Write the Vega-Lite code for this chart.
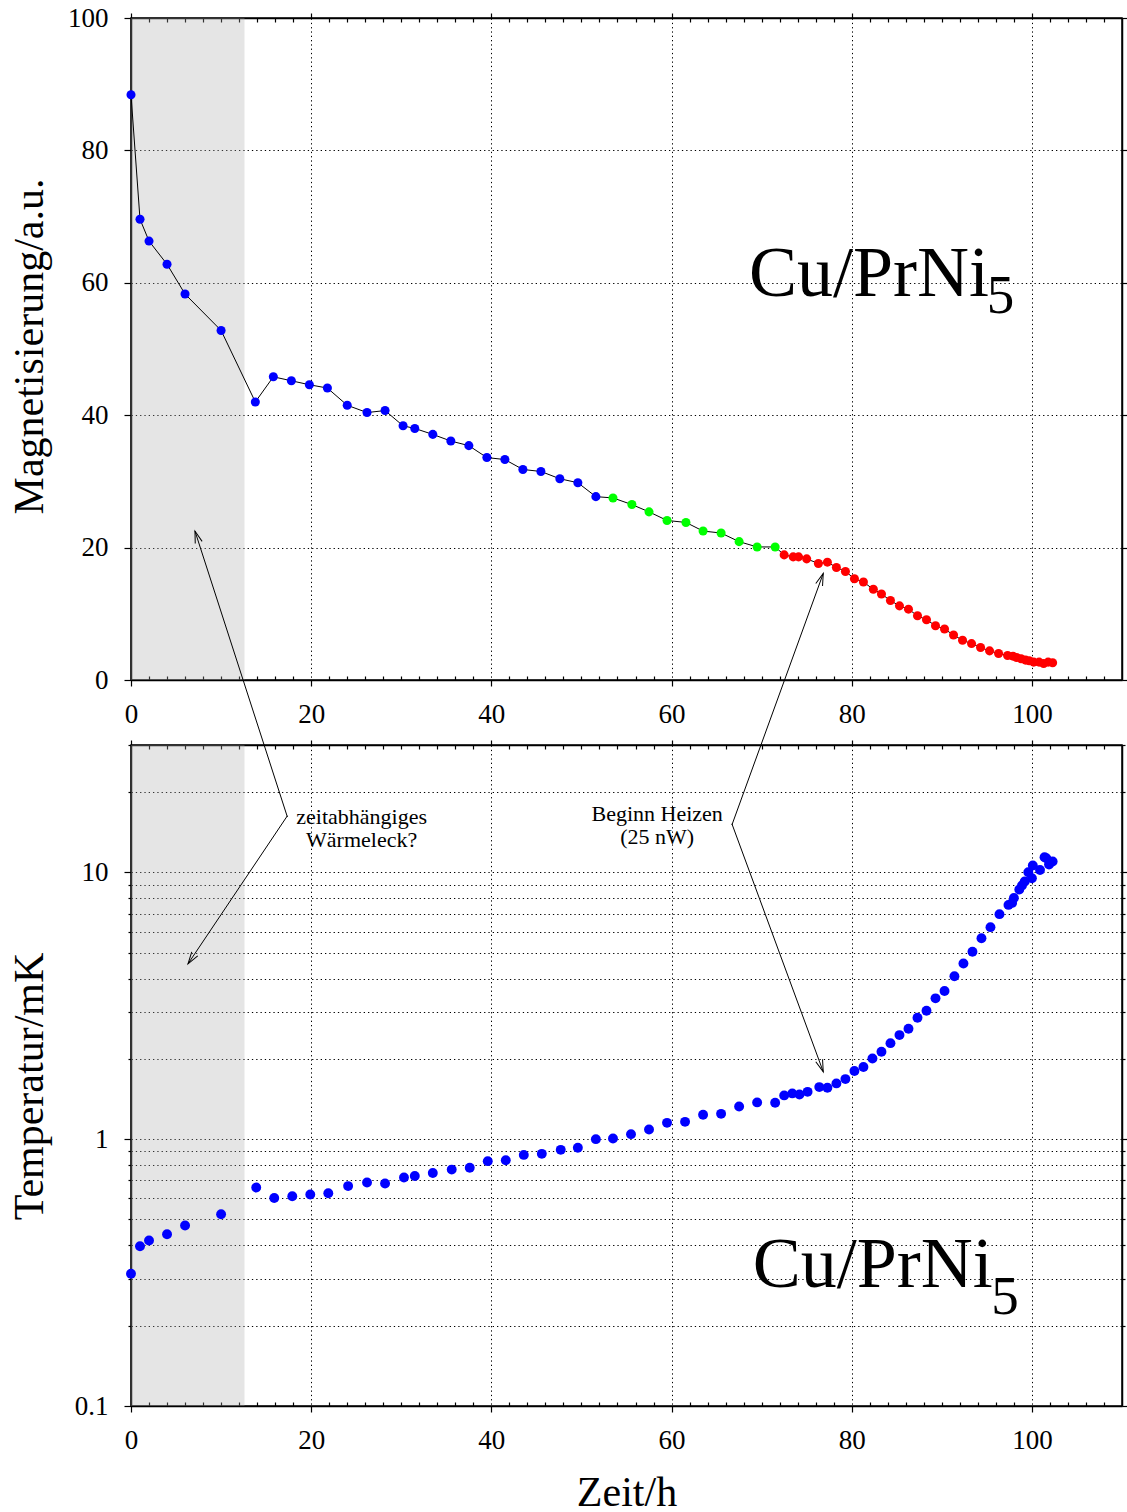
{
  "$schema": "https://vega.github.io/schema/vega-lite/v6.json",
  "padding": {"left": 7, "top": 3, "right": 0, "bottom": 0},
  "background": "white",
  "config": {
    "font": "Liberation Serif",
    "view": {"stroke": "black", "strokeWidth": 1.5},
    "axis": {
      "domainColor": "black", "domainWidth": 1.5,
      "tickColor": "black", "tickWidth": 1.2,
      "labelColor": "black", "labelFont": "Liberation Serif", "labelFontSize": 27,
      "labelOverlap": false, "labelFlush": false,
      "titleFont": "Liberation Serif", "titleFontSize": 42, "titleFontWeight": "normal", "titleColor": "black",
      "gridColor": "black", "gridDash": [1.3, 3], "gridWidth": 1
    }
  },
  "datasets": {
    "magnetisierung": [
      {"zeit": 0, "mag": 88.4, "phase": "1"},
      {"zeit": 1.0, "mag": 69.6, "phase": "1"},
      {"zeit": 2.0, "mag": 66.3, "phase": "1"},
      {"zeit": 4.0, "mag": 62.8, "phase": "1"},
      {"zeit": 6.0, "mag": 58.3, "phase": "1"},
      {"zeit": 10.0, "mag": 52.8, "phase": "1"},
      {"zeit": 13.8, "mag": 42.0, "phase": "1"},
      {"zeit": 15.8, "mag": 45.8, "phase": "1"},
      {"zeit": 17.8, "mag": 45.2, "phase": "1"},
      {"zeit": 19.8, "mag": 44.6, "phase": "1"},
      {"zeit": 21.8, "mag": 44.1, "phase": "1"},
      {"zeit": 24.0, "mag": 41.5, "phase": "1"},
      {"zeit": 26.2, "mag": 40.4, "phase": "1"},
      {"zeit": 28.2, "mag": 40.7, "phase": "1"},
      {"zeit": 30.2, "mag": 38.4, "phase": "1"},
      {"zeit": 31.5, "mag": 38.0, "phase": "1"},
      {"zeit": 33.5, "mag": 37.1, "phase": "1"},
      {"zeit": 35.5, "mag": 36.1, "phase": "1"},
      {"zeit": 37.5, "mag": 35.4, "phase": "1"},
      {"zeit": 39.5, "mag": 33.6, "phase": "1"},
      {"zeit": 41.5, "mag": 33.3, "phase": "1"},
      {"zeit": 43.5, "mag": 31.8, "phase": "1"},
      {"zeit": 45.5, "mag": 31.5, "phase": "1"},
      {"zeit": 47.6, "mag": 30.4, "phase": "1"},
      {"zeit": 49.6, "mag": 29.8, "phase": "1"},
      {"zeit": 51.6, "mag": 27.7, "phase": "1"},
      {"zeit": 53.5, "mag": 27.5, "phase": "2"},
      {"zeit": 55.6, "mag": 26.5, "phase": "2"},
      {"zeit": 57.5, "mag": 25.4, "phase": "2"},
      {"zeit": 59.5, "mag": 24.1, "phase": "2"},
      {"zeit": 61.6, "mag": 23.8, "phase": "2"},
      {"zeit": 63.5, "mag": 22.5, "phase": "2"},
      {"zeit": 65.5, "mag": 22.2, "phase": "2"},
      {"zeit": 67.5, "mag": 20.9, "phase": "2"},
      {"zeit": 69.5, "mag": 20.1, "phase": "2"},
      {"zeit": 71.5, "mag": 20.1, "phase": "2"},
      {"zeit": 72.5, "mag": 18.9, "phase": "3"},
      {"zeit": 73.5, "mag": 18.6, "phase": "3"},
      {"zeit": 74.1, "mag": 18.6, "phase": "3"},
      {"zeit": 75.0, "mag": 18.3, "phase": "3"},
      {"zeit": 76.3, "mag": 17.6, "phase": "3"},
      {"zeit": 77.3, "mag": 17.8, "phase": "3"},
      {"zeit": 78.3, "mag": 17.0, "phase": "3"},
      {"zeit": 79.3, "mag": 16.4, "phase": "3"},
      {"zeit": 80.3, "mag": 15.3, "phase": "3"},
      {"zeit": 81.3, "mag": 14.8, "phase": "3"},
      {"zeit": 82.4, "mag": 13.7, "phase": "3"},
      {"zeit": 83.3, "mag": 13.0, "phase": "3"},
      {"zeit": 84.3, "mag": 12.0, "phase": "3"},
      {"zeit": 85.3, "mag": 11.2, "phase": "3"},
      {"zeit": 86.3, "mag": 10.7, "phase": "3"},
      {"zeit": 87.3, "mag": 9.7, "phase": "3"},
      {"zeit": 88.3, "mag": 9.1, "phase": "3"},
      {"zeit": 89.3, "mag": 8.2, "phase": "3"},
      {"zeit": 90.3, "mag": 7.7, "phase": "3"},
      {"zeit": 91.3, "mag": 6.8, "phase": "3"},
      {"zeit": 92.3, "mag": 6.0, "phase": "3"},
      {"zeit": 93.3, "mag": 5.5, "phase": "3"},
      {"zeit": 94.3, "mag": 4.9, "phase": "3"},
      {"zeit": 95.3, "mag": 4.4, "phase": "3"},
      {"zeit": 96.3, "mag": 4.0, "phase": "3"},
      {"zeit": 97.3, "mag": 3.7, "phase": "3"},
      {"zeit": 97.9, "mag": 3.6, "phase": "3"},
      {"zeit": 98.3, "mag": 3.4, "phase": "3"},
      {"zeit": 98.8, "mag": 3.2, "phase": "3"},
      {"zeit": 99.3, "mag": 3.0, "phase": "3"},
      {"zeit": 99.7, "mag": 2.9, "phase": "3"},
      {"zeit": 100.2, "mag": 2.7, "phase": "3"},
      {"zeit": 100.8, "mag": 2.7, "phase": "3"},
      {"zeit": 101.3, "mag": 2.5, "phase": "3"},
      {"zeit": 101.8, "mag": 2.7, "phase": "3"},
      {"zeit": 102.3, "mag": 2.6, "phase": "3"}
    ],
    "temperatur": [
      {"zeit": 0, "temp": 0.313}, {"zeit": 1.0, "temp": 0.397}, {"zeit": 2.0, "temp": 0.417},
      {"zeit": 4.0, "temp": 0.440}, {"zeit": 6.0, "temp": 0.475}, {"zeit": 10.0, "temp": 0.523},
      {"zeit": 13.9, "temp": 0.659}, {"zeit": 15.9, "temp": 0.602}, {"zeit": 17.9, "temp": 0.611},
      {"zeit": 19.9, "temp": 0.620}, {"zeit": 21.9, "temp": 0.627}, {"zeit": 24.1, "temp": 0.667},
      {"zeit": 26.2, "temp": 0.688}, {"zeit": 28.2, "temp": 0.682}, {"zeit": 30.3, "temp": 0.718},
      {"zeit": 31.5, "temp": 0.728}, {"zeit": 33.5, "temp": 0.747}, {"zeit": 35.6, "temp": 0.769},
      {"zeit": 37.6, "temp": 0.781}, {"zeit": 39.6, "temp": 0.827}, {"zeit": 41.6, "temp": 0.834},
      {"zeit": 43.6, "temp": 0.873}, {"zeit": 45.6, "temp": 0.881}, {"zeit": 47.7, "temp": 0.912},
      {"zeit": 49.6, "temp": 0.928}, {"zeit": 51.6, "temp": 1.0}, {"zeit": 53.5, "temp": 1.006},
      {"zeit": 55.5, "temp": 1.044}, {"zeit": 57.5, "temp": 1.087}, {"zeit": 59.5, "temp": 1.151},
      {"zeit": 61.5, "temp": 1.161}, {"zeit": 63.5, "temp": 1.234}, {"zeit": 65.5, "temp": 1.244},
      {"zeit": 67.5, "temp": 1.326}, {"zeit": 69.5, "temp": 1.373}, {"zeit": 71.5, "temp": 1.369},
      {"zeit": 72.5, "temp": 1.459}, {"zeit": 73.4, "temp": 1.484}, {"zeit": 74.2, "temp": 1.471},
      {"zeit": 75.1, "temp": 1.504}, {"zeit": 76.4, "temp": 1.567}, {"zeit": 77.3, "temp": 1.558},
      {"zeit": 78.3, "temp": 1.618}, {"zeit": 79.3, "temp": 1.679}, {"zeit": 80.3, "temp": 1.800},
      {"zeit": 81.3, "temp": 1.863}, {"zeit": 82.3, "temp": 2.006}, {"zeit": 83.3, "temp": 2.125},
      {"zeit": 84.3, "temp": 2.290}, {"zeit": 85.3, "temp": 2.455}, {"zeit": 86.3, "temp": 2.594},
      {"zeit": 87.3, "temp": 2.852}, {"zeit": 88.3, "temp": 3.03}, {"zeit": 89.3, "temp": 3.37},
      {"zeit": 90.3, "temp": 3.59}, {"zeit": 91.4, "temp": 4.08}, {"zeit": 92.4, "temp": 4.55},
      {"zeit": 93.4, "temp": 5.04}, {"zeit": 94.4, "temp": 5.66}, {"zeit": 95.4, "temp": 6.23},
      {"zeit": 96.4, "temp": 6.97}, {"zeit": 97.4, "temp": 7.55}, {"zeit": 97.8, "temp": 7.68},
      {"zeit": 98.0, "temp": 8.02}, {"zeit": 98.6, "temp": 8.62}, {"zeit": 98.9, "temp": 8.92},
      {"zeit": 99.2, "temp": 9.24}, {"zeit": 99.6, "temp": 10.0}, {"zeit": 100.0, "temp": 9.50},
      {"zeit": 100.1, "temp": 10.6}, {"zeit": 100.9, "temp": 10.2}, {"zeit": 101.4, "temp": 11.4},
      {"zeit": 101.6, "temp": 11.3}, {"zeit": 101.9, "temp": 10.7}, {"zeit": 102.3, "temp": 10.98}
    ]
  },
  "spacing": 65,
  "bounds": "flush",
  "vconcat": [
    {
      "width": 991,
      "height": 662,
      "data": {"name": "magnetisierung"},
      "resolve": {"axis": {"x": "independent", "y": "independent"}},
      "layer": [
        {
          "data": {"values": [{}]},
          "mark": {"type": "rect", "fill": "#a8a8a8", "opacity": 0.3},
          "encoding": {
            "x": {"datum": 0, "type": "quantitative", "scale": {"domain": [0, 110], "nice": false, "zero": false}, "axis": null},
            "x2": {"datum": 12.6}
          }
        },
        {
          "mark": {"type": "line", "color": "black", "strokeWidth": 1},
          "encoding": {
            "x": {
              "field": "zeit", "type": "quantitative",
              "scale": {"domain": [0, 110], "nice": false, "zero": false},
              "axis": {
                "orient": "bottom", "title": null,
                "values": [0,2,4,6,8,10,12,14,16,18,20,22,24,26,28,30,32,34,36,38,40,42,44,46,48,50,52,54,56,58,60,62,64,66,68,70,72,74,76,78,80,82,84,86,88,90,92,94,96,98,100,102,104,106,108],
                "format": "d",
                "labelExpr": "datum.value % 20 === 0 ? datum.label : ''",
                "tickSize": {"condition": {"test": "datum.value % 20 === 0", "value": 6}, "value": -4},
                "labelPadding": 36, "labelBaseline": "alphabetic",
                "grid": true,
                "gridOpacity": {"condition": {"test": "datum.value % 20 === 0", "value": 1}, "value": 0}
              }
            },
            "y": {
              "field": "mag", "type": "quantitative",
              "scale": {"domain": [0, 100], "nice": false},
              "axis": {
                "orient": "left", "title": "Magnetisierung/a.u.",
                "values": [0, 20, 40, 60, 80, 100],
                "tickSize": 7, "labelPadding": 16, "grid": true,
                "titleX": -80, "titleY": 328, "titleBaseline": "bottom", "titleAlign": "center"
              }
            }
          }
        },
        {
          "mark": {"type": "point", "filled": true, "opacity": 1, "size": 82},
          "encoding": {
            "x": {
              "field": "zeit", "type": "quantitative",
              "scale": {"domain": [0, 110], "nice": false, "zero": false},
              "axis": {
                "orient": "top", "title": null, "labels": false, "grid": false,
                "values": [0,2,4,6,8,10,12,14,16,18,20,22,24,26,28,30,32,34,36,38,40,42,44,46,48,50,52,54,56,58,60,62,64,66,68,70,72,74,76,78,80,82,84,86,88,90,92,94,96,98,100,102,104,106,108],
                "tickSize": {"condition": {"test": "datum.value % 20 === 0", "value": 5}, "value": -4}
              }
            },
            "y": {
              "field": "mag", "type": "quantitative",
              "scale": {"domain": [0, 100], "nice": false},
              "axis": {"orient": "right", "title": null, "labels": false, "grid": false, "values": [0, 20, 40, 60, 80, 100], "tickSize": 5}
            },
            "color": {
              "field": "phase", "type": "nominal",
              "scale": {"domain": ["1", "2", "3"], "range": ["#0000ff", "#00ff00", "#ff0000"]},
              "legend": null
            }
          }
        },
        {
          "data": {"values": [{}]},
          "mark": {"type": "text", "text": "Cu/PrNi", "fontSize": 72, "align": "left", "baseline": "alphabetic", "color": "black"},
          "encoding": {
            "x": {"datum": 68.6, "type": "quantitative", "scale": {"domain": [0, 110], "nice": false, "zero": false}, "axis": null},
            "y": {"datum": 58.0, "type": "quantitative", "scale": {"domain": [0, 100], "nice": false}, "axis": null}
          }
        },
        {
          "data": {"values": [{}]},
          "mark": {"type": "text", "text": "5", "fontSize": 55, "align": "left", "baseline": "alphabetic", "color": "black"},
          "encoding": {
            "x": {"datum": 95.0, "type": "quantitative", "scale": {"domain": [0, 110], "nice": false, "zero": false}, "axis": null},
            "y": {"datum": 55.5, "type": "quantitative", "scale": {"domain": [0, 100], "nice": false}, "axis": null}
          }
        },
        {
          "data": {"values": [{}]},
          "mark": {"type": "rule", "color": "black", "strokeWidth": 1},
          "encoding": {
            "x": {"datum": 17.36, "type": "quantitative", "scale": {"domain": [0, 110], "nice": false, "zero": false}, "axis": null},
            "y": {"datum": -20.7, "type": "quantitative", "scale": {"domain": [0, 100], "nice": false}, "axis": null},
            "x2": {"datum": 7.10},
            "y2": {"datum": 22.5}
          }
        },
        {
          "data": {"values": [{}]},
          "mark": {"type": "rule", "color": "black", "strokeWidth": 1},
          "encoding": {
            "x": {"datum": 66.7, "type": "quantitative", "scale": {"domain": [0, 110], "nice": false, "zero": false}, "axis": null},
            "y": {"datum": -21.9, "type": "quantitative", "scale": {"domain": [0, 100], "nice": false}, "axis": null},
            "x2": {"datum": 76.84},
            "y2": {"datum": 16.1}
          }
        },
        {
          "data": {"values": [{}]},
          "mark": {"type": "point", "shape": "M-0.6,2L0,0L0.6,2", "size": 144, "filled": false, "color": "black", "strokeWidth": 1, "opacity": 1, "angle": 342},
          "encoding": {
            "x": {"datum": 7.10, "type": "quantitative", "scale": {"domain": [0, 110], "nice": false, "zero": false}, "axis": null},
            "y": {"datum": 22.5, "type": "quantitative", "scale": {"domain": [0, 100], "nice": false}, "axis": null}
          }
        },
        {
          "data": {"values": [{}]},
          "mark": {"type": "point", "shape": "M-0.6,2L0,0L0.6,2", "size": 144, "filled": false, "color": "black", "strokeWidth": 1, "opacity": 1, "angle": 20},
          "encoding": {
            "x": {"datum": 76.84, "type": "quantitative", "scale": {"domain": [0, 110], "nice": false, "zero": false}, "axis": null},
            "y": {"datum": 16.1, "type": "quantitative", "scale": {"domain": [0, 100], "nice": false}, "axis": null}
          }
        }
      ]
    },
    {
      "width": 991,
      "height": 661,
      "data": {"name": "temperatur"},
      "resolve": {"axis": {"x": "independent", "y": "independent"}},
      "layer": [
        {
          "data": {"values": [{}]},
          "mark": {"type": "rect", "fill": "#a8a8a8", "opacity": 0.3},
          "encoding": {
            "x": {"datum": 0, "type": "quantitative", "scale": {"domain": [0, 110], "nice": false, "zero": false}, "axis": null},
            "x2": {"datum": 12.6}
          }
        },
        {
          "mark": {"type": "point", "filled": true, "opacity": 1, "size": 98, "color": "#0000ff"},
          "encoding": {
            "x": {
              "field": "zeit", "type": "quantitative",
              "scale": {"domain": [0, 110], "nice": false, "zero": false},
              "axis": {
                "orient": "bottom", "title": "Zeit/h",
                "values": [0,2,4,6,8,10,12,14,16,18,20,22,24,26,28,30,32,34,36,38,40,42,44,46,48,50,52,54,56,58,60,62,64,66,68,70,72,74,76,78,80,82,84,86,88,90,92,94,96,98,100,102,104,106,108],
                "format": "d",
                "labelExpr": "datum.value % 20 === 0 ? datum.label : ''",
                "tickSize": {"condition": {"test": "datum.value % 20 === 0", "value": 6}, "value": -4},
                "labelPadding": 36, "labelBaseline": "alphabetic",
                "grid": true,
                "gridOpacity": {"condition": {"test": "datum.value % 20 === 0", "value": 1}, "value": 0},
                "titleY": 99, "titleBaseline": "alphabetic"
              }
            },
            "y": {
              "field": "temp", "type": "quantitative",
              "scale": {"type": "log", "domain": [0.1, 30], "nice": false},
              "axis": {
                "orient": "left", "title": "Temperatur/mK",
                "values": [0.1,0.2,0.3,0.4,0.5,0.6,0.7,0.8,0.9,1,2,3,4,5,6,7,8,9,10,20,30],
                "format": "~g",
                "labelExpr": "datum.value === 0.1 || datum.value === 1 || datum.value === 10 ? datum.label : ''",
                "tickSize": {"condition": {"test": "datum.value === 0.1 || datum.value === 1 || datum.value === 10", "value": 7}, "value": 3},
                "labelPadding": 16, "grid": true,
                "titleX": -80, "titleY": 341, "titleBaseline": "bottom", "titleAlign": "center"
              }
            }
          }
        },
        {
          "mark": {"type": "point", "filled": true, "opacity": 0, "size": 98},
          "encoding": {
            "x": {
              "field": "zeit", "type": "quantitative",
              "scale": {"domain": [0, 110], "nice": false, "zero": false},
              "axis": {
                "orient": "top", "title": null, "labels": false, "grid": false,
                "values": [0,2,4,6,8,10,12,14,16,18,20,22,24,26,28,30,32,34,36,38,40,42,44,46,48,50,52,54,56,58,60,62,64,66,68,70,72,74,76,78,80,82,84,86,88,90,92,94,96,98,100,102,104,106,108],
                "tickSize": {"condition": {"test": "datum.value % 20 === 0", "value": 5}, "value": -4}
              }
            },
            "y": {
              "field": "temp", "type": "quantitative",
              "scale": {"type": "log", "domain": [0.1, 30], "nice": false},
              "axis": {
                "orient": "right", "title": null, "labels": false, "grid": false,
                "values": [0.1,0.2,0.3,0.4,0.5,0.6,0.7,0.8,0.9,1,2,3,4,5,6,7,8,9,10,20,30],
                "tickSize": {"condition": {"test": "datum.value === 0.1 || datum.value === 1 || datum.value === 10", "value": 6}, "value": 3}
              }
            }
          }
        },
        {
          "data": {"values": [{}]},
          "mark": {"type": "text", "text": "Cu/PrNi", "fontSize": 72, "align": "left", "baseline": "alphabetic", "color": "black"},
          "encoding": {
            "x": {"datum": 69.0, "type": "quantitative", "scale": {"domain": [0, 110], "nice": false, "zero": false}, "axis": null},
            "y": {"datum": 0.2785, "type": "quantitative", "scale": {"type": "log", "domain": [0.1, 30], "nice": false}, "axis": null}
          }
        },
        {
          "data": {"values": [{}]},
          "mark": {"type": "text", "text": "5", "fontSize": 55, "align": "left", "baseline": "alphabetic", "color": "black"},
          "encoding": {
            "x": {"datum": 95.5, "type": "quantitative", "scale": {"domain": [0, 110], "nice": false, "zero": false}, "axis": null},
            "y": {"datum": 0.222, "type": "quantitative", "scale": {"type": "log", "domain": [0.1, 30], "nice": false}, "axis": null}
          }
        },
        {
          "data": {"values": [{}]},
          "mark": {"type": "text", "text": "zeitabhängiges\nWärmeleck?", "lineBreak": "\n", "lineHeight": 23, "fontSize": 22, "align": "center", "baseline": "alphabetic", "color": "black"},
          "encoding": {
            "x": {"datum": 25.6, "type": "quantitative", "scale": {"domain": [0, 110], "nice": false, "zero": false}, "axis": null},
            "y": {"datum": 15.2, "type": "quantitative", "scale": {"type": "log", "domain": [0.1, 30], "nice": false}, "axis": null}
          }
        },
        {
          "data": {"values": [{}]},
          "mark": {"type": "text", "text": "Beginn Heizen\n(25 nW)", "lineBreak": "\n", "lineHeight": 23, "fontSize": 22, "align": "center", "baseline": "alphabetic", "color": "black"},
          "encoding": {
            "x": {"datum": 58.4, "type": "quantitative", "scale": {"domain": [0, 110], "nice": false, "zero": false}, "axis": null},
            "y": {"datum": 15.6, "type": "quantitative", "scale": {"type": "log", "domain": [0.1, 30], "nice": false}, "axis": null}
          }
        },
        {
          "data": {"values": [{}]},
          "mark": {"type": "rule", "color": "black", "strokeWidth": 1},
          "encoding": {
            "x": {"datum": 17.36, "type": "quantitative", "scale": {"domain": [0, 110], "nice": false, "zero": false}, "axis": null},
            "y": {"datum": 16.29, "type": "quantitative", "scale": {"type": "log", "domain": [0.1, 30], "nice": false}, "axis": null},
            "x2": {"datum": 6.33},
            "y2": {"datum": 4.54}
          }
        },
        {
          "data": {"values": [{}]},
          "mark": {"type": "rule", "color": "black", "strokeWidth": 1},
          "encoding": {
            "x": {"datum": 66.7, "type": "quantitative", "scale": {"domain": [0, 110], "nice": false, "zero": false}, "axis": null},
            "y": {"datum": 15.2, "type": "quantitative", "scale": {"type": "log", "domain": [0.1, 30], "nice": false}, "axis": null},
            "x2": {"datum": 76.84},
            "y2": {"datum": 1.789}
          }
        },
        {
          "data": {"values": [{}]},
          "mark": {"type": "point", "shape": "M-0.6,2L0,0L0.6,2", "size": 144, "filled": false, "color": "black", "strokeWidth": 1, "opacity": 1, "angle": 214},
          "encoding": {
            "x": {"datum": 6.33, "type": "quantitative", "scale": {"domain": [0, 110], "nice": false, "zero": false}, "axis": null},
            "y": {"datum": 4.54, "type": "quantitative", "scale": {"type": "log", "domain": [0.1, 30], "nice": false}, "axis": null}
          }
        },
        {
          "data": {"values": [{}]},
          "mark": {"type": "point", "shape": "M-0.6,2L0,0L0.6,2", "size": 144, "filled": false, "color": "black", "strokeWidth": 1, "opacity": 1, "angle": 160},
          "encoding": {
            "x": {"datum": 76.84, "type": "quantitative", "scale": {"domain": [0, 110], "nice": false, "zero": false}, "axis": null},
            "y": {"datum": 1.789, "type": "quantitative", "scale": {"type": "log", "domain": [0.1, 30], "nice": false}, "axis": null}
          }
        }
      ]
    }
  ]
}
